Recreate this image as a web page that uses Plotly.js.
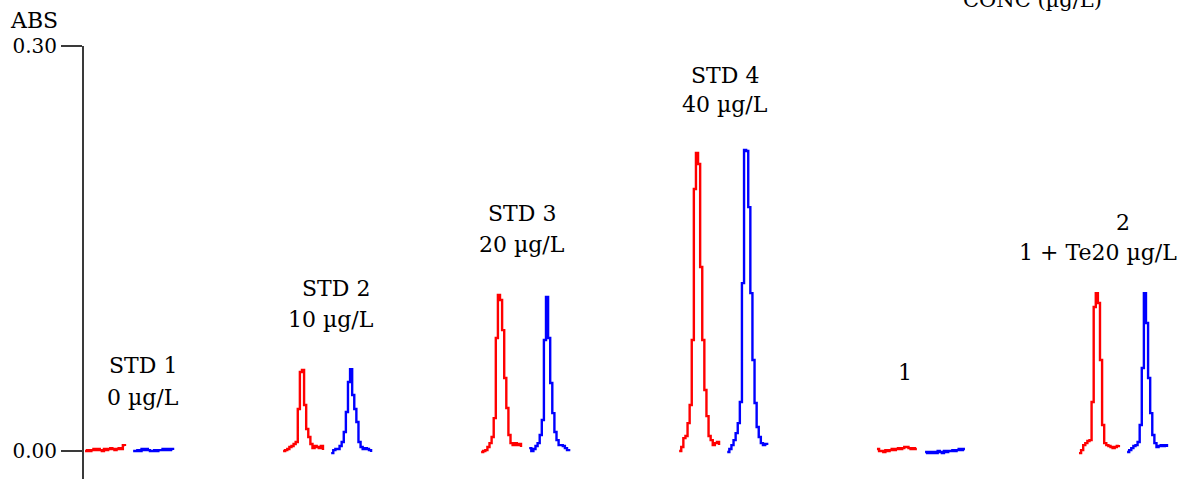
<!DOCTYPE html>
<html>
<head>
<meta charset="utf-8">
<script src="https://cdn.plot.ly/plotly-3.0.1.min.js"></script>
<style>
  html, body { margin: 0; padding: 0; background: #fff; }
  #chart { width: 1180px; height: 479px; }
</style>
</head>
<body>
<div id="chart"></div>
<script>
// ---- data (absorbance, sampled every 0.1 s) ----
const sampleStep = 0.1;
const measurements = ["STD 1", "STD 2", "STD 3", "STD 4", "1", "2"];
const concLabels = ["0 µg/L", "10 µg/L", "20 µg/L", "40 µg/L", "", "1 + Te20 µg/L"];

const redSignals = [
  [0, 0.0007, 0, 0.0007, 0.0015, 0.0007, 0.0015, 0.0007, 0, 0.0015, 0.0007, 0.0015, 0.0022, 0.0015, 0.0007, 0.0015, 0.0022, 0.0015, 0.0044, 0.0037],
  [0, 0.0007, 0.0015, 0.0030, 0.0037, 0.0052, 0.0067, 0.0311, 0.0585, 0.0600, 0.0341, 0.0163, 0.0104, 0.0052, 0.0022, 0.0037, 0.0030, 0.0022, 0.0037, 0.0007],
  [-0.0007, 0, 0.0007, 0.0030, 0.0059, 0.0104, 0.0244, 0.0837, 0.1156, 0.1119, 0.0896, 0.0541, 0.0319, 0.0119, 0.0059, 0.0044, 0.0059, 0.0044, 0.0052, 0.0030],
  [0, 0.0030, 0.0096, 0.0111, 0.0207, 0.0341, 0.0822, 0.1941, 0.2207, 0.2126, 0.1363, 0.0822, 0.0452, 0.0259, 0.0111, 0.0081, 0.0044, 0.0059, 0.0067, 0.0044],
  [0.0015, 0, 0, -0.0007, 0.0007, 0, 0.0007, 0.0015, 0.0007, 0.0015, 0.0022, 0.0015, 0.0022, 0.0030, 0.0030, 0.0022, 0.0015, 0.0022, 0.0015, 0.0015],
  [-0.0015, 0.0007, 0.0044, 0.0059, 0.0074, 0.0081, 0.0363, 0.1067, 0.1170, 0.1096, 0.0674, 0.0193, 0.0059, 0.0044, 0.0037, 0.0030, 0.0022, 0.0030, 0.0037, 0.0044]
];

const blueSignals = [
  [0, 0, 0.0007, 0, 0.0015, 0.0007, 0.0015, 0.0007, 0, 0, 0.0007, 0, 0.0007, 0.0007, 0.0015, 0.0007, 0.0015, 0.0007, 0.0015, 0.0007],
  [-0.0015, 0.0007, 0.0015, 0.0015, 0.0037, 0.0067, 0.0141, 0.0289, 0.0511, 0.0607, 0.0415, 0.0311, 0.0215, 0.0067, 0.0030, 0.0015, 0.0022, 0.0015, 0.0007, -0.0007],
  [0.0022, 0, 0.0015, 0.0037, 0.0059, 0.0119, 0.0230, 0.0822, 0.1141, 0.0837, 0.0504, 0.0281, 0.0141, 0.0081, 0.0044, 0.0044, 0.0037, 0.0022, 0.0007, 0.0015],
  [-0.0007, 0.0015, 0.0044, 0.0081, 0.0133, 0.0207, 0.0363, 0.1244, 0.2230, 0.2222, 0.1807, 0.1170, 0.0674, 0.0356, 0.0178, 0.0104, 0.0059, 0.0044, 0.0052, 0.0044],
  [-0.0007, -0.0015, -0.0007, -0.0015, -0.0007, -0.0015, 0, -0.0007, -0.0015, 0, -0.0007, 0, 0, 0.0007, 0, 0.0007, 0.0015, 0.0007, 0.0015, 0.0015],
  [-0.0007, 0.0007, 0.0022, 0.0037, 0.0044, 0.0067, 0.0193, 0.0615, 0.1170, 0.0948, 0.0541, 0.0281, 0.0119, 0.0059, 0.0030, 0.0037, 0.0044, 0.0037, 0.0044, 0.0030]
];

const yTickVals = [0, 0.30];
const yTickText = ["0.00", "0.30"];

// ---- layout positions (time axis, s) ----
const groupStart = [0, 9.43, 18.86, 28.29, 37.71, 47.33];
const blueOffset = 2.29;
const label1Pos = [[2.76, 0.063], [11.95, 0.1207], [20.81, 0.1763], [30.47, 0.2785], [39.05, 0.0585], [49.43, 0.1696]];
const label2Pos = [[2.76, 0.040], [11.71, 0.0978], [20.81, 0.1533], [30.47, 0.2570], [0, 0], [48.24, 0.1474]];

const FONT = "DejaVu Serif, serif";

function times(start, n) {
  const t = [];
  for (let i = 0; i < n; i++) t.push(+(start + i * sampleStep).toFixed(3));
  return t;
}

const traces = [];
measurements.forEach((m, g) => {
  traces.push({
    x: times(groupStart[g], redSignals[g].length), y: redSignals[g],
    type: "scatter", mode: "lines", line: {color: "#ff0000", width: 2.4, shape: "hv"},
    hoverinfo: "skip", showlegend: false
  });
  traces.push({
    x: times(groupStart[g] + blueOffset, blueSignals[g].length), y: blueSignals[g],
    type: "scatter", mode: "lines", line: {color: "#0000ff", width: 2.4, shape: "hv"},
    hoverinfo: "skip", showlegend: false
  });
});

const annotations = [];
measurements.forEach((m, g) => {
  annotations.push({x: label1Pos[g][0], y: label1Pos[g][1], xref: "x", yref: "y", text: m,
    showarrow: false, xanchor: "center", yanchor: "middle", font: {family: FONT, size: 22, color: "#000"}});
  if (concLabels[g]) {
    annotations.push({x: label2Pos[g][0], y: label2Pos[g][1], xref: "x", yref: "y", text: concLabels[g],
      showarrow: false, xanchor: "center", yanchor: "middle", font: {family: FONT, size: 22, color: "#000"}});
  }
});
annotations.push({x: -0.0456, y: 1.058, xref: "paper", yref: "paper", text: "ABS", showarrow: false,
  xanchor: "center", yanchor: "middle", font: {family: FONT, size: 22, color: "#000"}});
annotations.push({x: 0.865, y: 1.0739, xref: "paper", yref: "paper", text: "CONC (µg/L)", showarrow: false,
  xanchor: "center", yanchor: "bottom", font: {family: FONT, size: 21, color: "#000"}});

const layout = {
  width: 1180, height: 479,
  margin: {l: 84, r: 0, t: 46, b: 0, pad: 0},
  paper_bgcolor: "#fff", plot_bgcolor: "#fff",
  showlegend: false,
  xaxis: {range: [-0.05, 52.14], visible: false, showgrid: false, zeroline: false, fixedrange: true},
  yaxis: {
    range: [-0.0207, 0.30], showgrid: false, zeroline: false, fixedrange: true,
    showline: true, linecolor: "#3a3a3a", linewidth: 2,
    ticks: "outside", ticklen: 21, tickwidth: 2, tickcolor: "#3a3a3a",
    tickvals: yTickVals, ticktext: yTickText,
    tickfont: {family: FONT, size: 20, color: "#000"}
  },
  annotations: annotations
};

Plotly.newPlot("chart", traces, layout, {staticPlot: true, displayModeBar: false});
</script>
</body>
</html>
